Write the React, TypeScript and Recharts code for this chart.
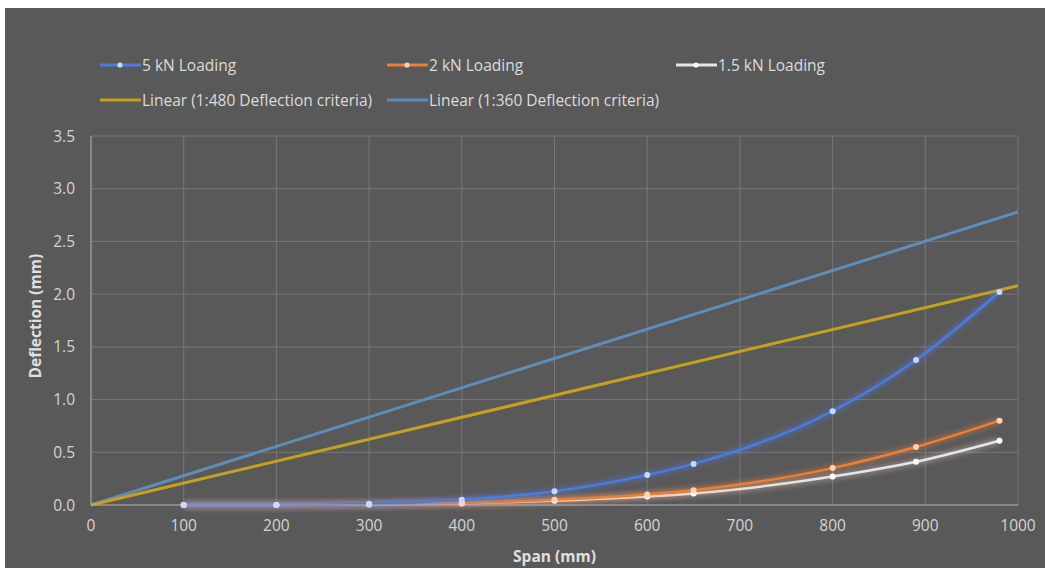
import { CartesianGrid, Legend, Line, LineChart, XAxis, YAxis } from "recharts";

const spans = [100, 200, 300, 400, 500, 600, 650, 800, 890, 980];
const load5kN = [0, 0, 0.01, 0.05, 0.13, 0.285, 0.39, 0.89, 1.375, 2.02];
const load2kN = [0, 0, 0.01, 0.02, 0.05, 0.1, 0.14, 0.35, 0.55, 0.8];
const load15kN = [0, 0, 0.005, 0.015, 0.04, 0.08, 0.11, 0.27, 0.41, 0.61];

const linearSpans = [0, 1000];
const linear480 = [0, 2.08];
const linear360 = [0, 2.78];

const xTicks = [0, 100, 200, 300, 400, 500, 600, 700, 800, 900, 1000];
const yTicks = [0, 0.5, 1, 1.5, 2, 2.5, 3, 3.5];

const toRows = (xs: number[], ys: number[]) => xs.map((span, i) => ({ span, value: ys[i] }));

const data5 = toRows(spans, load5kN);
const data2 = toRows(spans, load2kN);
const data15 = toRows(spans, load15kN);
const data480 = toRows(linearSpans, linear480);
const data360 = toRows(linearSpans, linear360);

const BLUE = "#4a7be0";
const ORANGE = "#ee7e33";
const WHITE = "#e6e6e6";
const GOLD = "#c6a11f";
const STEEL = "#5d8db8";

const legendItems = [
  { label: "5 kN Loading", color: BLUE, dot: "#c8d8ff", left: 95, top: 46 },
  { label: "2 kN Loading", color: ORANGE, dot: "#ffd2b0", left: 382, top: 46 },
  { label: "1.5 kN Loading", color: WHITE, dot: "#ffffff", left: 671, top: 46 },
  { label: "Linear (1:480 Deflection criteria)", color: GOLD, left: 95, top: 81 },
  { label: "Linear (1:360 Deflection criteria)", color: STEEL, left: 382, top: 81 },
];

function ChartLegend() {
  return (
    <div style={{ position: "absolute", left: 0, top: 0, width: 1040, height: 120, pointerEvents: "none" }}>
      {legendItems.map((item) => (
        <div
          key={item.label}
          style={{ position: "absolute", left: item.left, top: item.top, height: 22, display: "flex", alignItems: "center", color: "#dcdcdc", fontSize: 15.5 }}
        >
          <svg width={41} height={10} style={{ marginRight: 1 }}>
            <line x1={0} x2={41} y1={5} y2={5} stroke={item.color} strokeWidth={3} />
            {item.dot && <circle cx={20} cy={5} r={2.6} fill={item.dot} />}
          </svg>
          <span>{item.label}</span>
        </div>
      ))}
    </div>
  );
}

const tickStyle = { fill: "#d4d4d4", fontSize: 15.5 };

export default function App() {
  return (
    <div style={{ position: "absolute", left: 0, top: 0, width: 1045, height: 568, background: "#ffffff", fontFamily: "'Open Sans', sans-serif" }}>
      <style>{`
        .glow-blue { filter: drop-shadow(0 0 3px rgba(80,130,255,0.9)); }
        .glow-orange { filter: drop-shadow(0 0 3px rgba(255,140,60,0.9)); }
        .glow-white { filter: drop-shadow(0 0 3px rgba(255,220,230,0.8)); }
      `}</style>
      <div style={{ position: "absolute", left: 5, top: 8, width: 1040, height: 560, background: "#595959" }}>
        <LineChart width={1040} height={560} margin={{ top: 128, right: 27, bottom: 33, left: 30 }}>
          <CartesianGrid stroke="#777777" strokeWidth={1} />
          <XAxis
            dataKey="span"
            type="number"
            domain={[0, 1000]}
            ticks={xTicks}
            tick={tickStyle}
            tickLine={false}
            axisLine={{ stroke: "#a8a8a8" }}
            height={30}
            tickMargin={9}
            label={{ value: "Span (mm)", position: "insideBottom", offset: -27, fill: "#e0e0e0", fontSize: 15.5, fontWeight: 700 }}
            allowDuplicatedCategory={false}
          />
          <YAxis
            type="number"
            domain={[0, 3.5]}
            ticks={yTicks}
            tick={tickStyle}
            tickFormatter={(v: number) => v.toFixed(1)}
            tickLine={false}
            axisLine={{ stroke: "#a8a8a8" }}
            width={56}
            tickMargin={10}
            label={{ value: "Deflection (mm)", angle: -90, position: "insideLeft", offset: 0, dy: 58, fill: "#e0e0e0", fontSize: 15.5, fontWeight: 700 }}
          />
          <Legend content={() => null} />
          <Line data={data360} dataKey="value" type="linear" stroke={STEEL} strokeWidth={3} dot={false} isAnimationActive={false} />
          <Line data={data480} dataKey="value" type="linear" stroke={GOLD} strokeWidth={3} dot={false} isAnimationActive={false} />
          <Line
            data={data15}
            dataKey="value"
            type="monotone"
            stroke={WHITE}
            strokeWidth={2.5}
            className="glow-white"
            dot={{ r: 3, fill: "#ffffff", stroke: "none" }}
            isAnimationActive={false}
          />
          <Line
            data={data2}
            dataKey="value"
            type="monotone"
            stroke={ORANGE}
            strokeWidth={2.5}
            className="glow-orange"
            dot={{ r: 3, fill: "#ffd2b0", stroke: "none" }}
            isAnimationActive={false}
          />
          <Line
            data={data5}
            dataKey="value"
            type="monotone"
            stroke={BLUE}
            strokeWidth={2.5}
            className="glow-blue"
            dot={{ r: 3, fill: "#c8d8ff", stroke: "none" }}
            isAnimationActive={false}
          />
        </LineChart>
        <ChartLegend />
      </div>
    </div>
  );
}
